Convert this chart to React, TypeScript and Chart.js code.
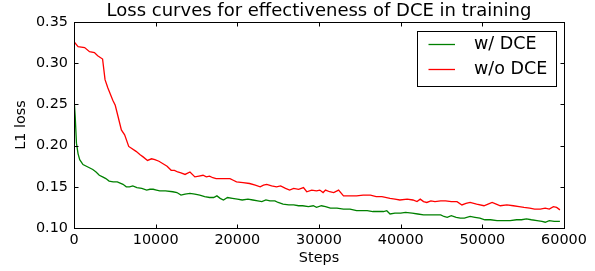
import React, { useEffect, useRef } from "react";
import { Chart, registerables } from "chart.js";

Chart.register(...registerables);

const chartTitle = "Loss curves for effectiveness of DCE in training";
const xLabel = "Steps";
const yLabel = "L1 loss";

const seriesNames = ["w/ DCE", "w/o DCE"];
const seriesColors = ["#008000", "#ff0000"];

const xTicks = [0, 10000, 20000, 30000, 40000, 50000, 60000];
const yTicks = [0.1, 0.15, 0.2, 0.25, 0.3, 0.35];

const greenSteps = [
  0, 150, 300, 500, 700, 1100, 1700, 2300, 2700, 3100, 3500, 3900, 4300, 4800, 5300, 6000, 6400, 6800, 7200, 7700,
  8300, 8900, 9300, 9700, 10100, 10500, 11200, 12100, 12600, 13100, 13600, 14200, 14800, 15400, 16000, 16600, 17100,
  17500, 17900, 18300, 18800, 19400, 20000, 20600, 21300, 21900, 22500, 23000, 23500, 24000, 24600, 25000, 25600,
  26300, 26900, 27500, 28000, 28700, 29300, 29700, 30300, 30800, 31400, 32200, 33000, 33800, 34600, 35300, 35900,
  36600, 37300, 37900, 38300, 38700, 39300, 40000, 40600, 41400, 42100, 42800, 43600, 44400, 44900, 45300, 45700,
  46200, 46800, 47300, 47800, 48500, 49100, 49700, 50300, 51000, 51800, 52600, 53400, 54200, 54800, 55400, 56000,
  56700, 57300, 57700, 58200, 58800, 59500,
];
const greenLoss = [
  0.258, 0.235, 0.203, 0.19, 0.183, 0.177, 0.174, 0.171, 0.168, 0.164, 0.162, 0.16, 0.157, 0.156, 0.156, 0.153, 0.15,
  0.15, 0.151, 0.149, 0.148, 0.146, 0.147, 0.147, 0.146, 0.145, 0.145, 0.144, 0.143, 0.14, 0.141, 0.142, 0.141, 0.14,
  0.138, 0.137, 0.137, 0.139, 0.136, 0.134, 0.137, 0.136, 0.135, 0.134, 0.135, 0.134, 0.133, 0.132, 0.134, 0.133,
  0.133, 0.131, 0.129, 0.128, 0.128, 0.127, 0.127, 0.126, 0.127, 0.125, 0.127, 0.126, 0.124, 0.124, 0.123, 0.123,
  0.121, 0.121, 0.121, 0.12, 0.12, 0.12, 0.121, 0.117, 0.118, 0.118, 0.119, 0.118, 0.117, 0.116, 0.116, 0.116, 0.116,
  0.114, 0.113, 0.115, 0.113, 0.112, 0.112, 0.114, 0.113, 0.112, 0.11, 0.11, 0.109, 0.109, 0.109, 0.11, 0.11, 0.111,
  0.11, 0.109, 0.108, 0.107, 0.109, 0.108, 0.108,
];

const redSteps = [
  0, 500, 1300, 1900, 2500, 2900, 3500, 3800, 4150, 4750, 5050, 5400, 5800, 6200, 6700, 7600, 8100, 8500, 9000, 9500,
  9900, 10400, 10900, 11400, 11900, 12300, 12700, 13100, 13600, 14200, 14800, 15300, 15800, 16200, 16600, 17000,
  17400, 18200, 19100, 19500, 19900, 20700, 21500, 22200, 22800, 23200, 23600, 24200, 24800, 25300, 25900, 26400,
  26900, 27500, 28100, 28500, 29100, 29700, 30100, 30500, 30800, 31300, 31800, 32400, 33000, 33800, 34600, 35400,
  36300, 37000, 37700, 38700, 39300, 39900, 40800, 41500, 42000, 42400, 42800, 43200, 43700, 44200, 44900, 45500,
  46200, 46900, 47500, 48000, 48500, 49300, 50200, 50700, 51200, 51700, 52200, 53000, 53800, 54500, 55100, 55800,
  56400, 57100, 57700, 58200, 58700, 59100, 59500,
];
const redLoss = [
  0.326, 0.32, 0.319, 0.314, 0.313, 0.309, 0.305, 0.28, 0.27, 0.255, 0.249, 0.235, 0.219, 0.213, 0.199, 0.193, 0.189,
  0.186, 0.182, 0.184, 0.183, 0.181, 0.178, 0.175, 0.17, 0.17, 0.168, 0.167, 0.165, 0.168, 0.162, 0.163, 0.164, 0.162,
  0.163, 0.161, 0.16, 0.16, 0.16, 0.158, 0.156, 0.155, 0.154, 0.152, 0.15, 0.152, 0.153, 0.151, 0.15, 0.151, 0.148,
  0.146, 0.148, 0.147, 0.149, 0.144, 0.146, 0.145, 0.146, 0.143, 0.146, 0.144, 0.143, 0.146, 0.139, 0.139, 0.139,
  0.14, 0.14, 0.138, 0.138, 0.136, 0.135, 0.134, 0.135, 0.134, 0.132, 0.135, 0.132, 0.131, 0.133, 0.132, 0.133, 0.133,
  0.132, 0.132, 0.128, 0.13, 0.131, 0.129, 0.127, 0.129, 0.131, 0.129, 0.127, 0.128, 0.127, 0.126, 0.125, 0.124, 0.123,
  0.123, 0.124, 0.123, 0.126, 0.125, 0.122,
];

const FONT = "'DejaVu Sans', sans-serif";

const framePlugin = {
  id: "frame",
  afterDatasetsDraw(chart: any) {
    const { ctx, chartArea: a, scales } = chart;
    const L = Math.round(a.left) + 0.5;
    const R = Math.round(a.right) + 0.5;
    const T = Math.round(a.top) + 0.5;
    const B = Math.round(a.bottom) + 0.5;
    ctx.save();
    ctx.strokeStyle = "#000";
    ctx.lineWidth = 1;
    ctx.strokeRect(L, T, R - L, B - T);
    const tl = 4;
    ctx.beginPath();
    xTicks.forEach((v) => {
      const px = Math.round(scales.x.getPixelForValue(v)) + 0.5;
      ctx.moveTo(px, B);
      ctx.lineTo(px, B - tl);
      ctx.moveTo(px, T);
      ctx.lineTo(px, T + tl);
    });
    yTicks.forEach((v) => {
      const py = Math.round(scales.y.getPixelForValue(v)) + 0.5;
      ctx.moveTo(L, py);
      ctx.lineTo(L + tl, py);
      ctx.moveTo(R, py);
      ctx.lineTo(R - tl, py);
    });
    ctx.stroke();
    ctx.restore();
  },
};

const legendPlugin = {
  id: "boxLegend",
  afterDraw(chart: any) {
    const { ctx, chartArea: a } = chart;
    const boxRight = a.right - 8.5;
    const boxTop = a.top + 9;
    const boxW = 139;
    const rowH = 25;
    const boxH = 55;
    const boxLeft = boxRight - boxW;
    ctx.save();
    ctx.fillStyle = "#fff";
    ctx.fillRect(boxLeft, boxTop, boxW, boxH);
    ctx.strokeStyle = "#000";
    ctx.lineWidth = 1;
    ctx.strokeRect(Math.round(boxLeft) + 0.5, Math.round(boxTop) + 0.5, boxW, boxH);
    ctx.font = `17.5px ${FONT}`;
    ctx.textBaseline = "middle";
    ctx.textAlign = "left";
    chart.data.datasets.forEach((ds: any, i: number) => {
      const cy = boxTop + 13.5 + i * rowH;
      ctx.strokeStyle = ds.borderColor;
      ctx.lineWidth = 1.3;
      ctx.beginPath();
      ctx.moveTo(boxLeft + 12, cy);
      ctx.lineTo(boxLeft + 38.5, cy);
      ctx.stroke();
      ctx.fillStyle = "#000";
      ctx.fillText(ds.label, boxLeft + 57.5, cy);
    });
    ctx.restore();
  },
};

export default function App() {
  const ref = useRef<HTMLCanvasElement | null>(null);

  useEffect(() => {
    if (!ref.current) return;
    Chart.defaults.color = "#000";
    const chart = new Chart(ref.current, {
      type: "line",
      data: {
        datasets: [
          {
            label: seriesNames[0],
            data: greenSteps.map((s, i) => ({ x: s, y: greenLoss[i] })),
            borderColor: seriesColors[0],
            borderWidth: 1.3,
            pointRadius: 0,
            fill: false,
            tension: 0,
          },
          {
            label: seriesNames[1],
            data: redSteps.map((s, i) => ({ x: s, y: redLoss[i] })),
            borderColor: seriesColors[1],
            borderWidth: 1.3,
            pointRadius: 0,
            fill: false,
            tension: 0,
          },
        ],
      },
      options: {
        responsive: false,
        animation: false,
        events: [],
        layout: { padding: { top: 0, left: 0, right: 31, bottom: 0 } },
        plugins: {
          legend: { display: false },
          tooltip: { enabled: false },
          title: {
            display: true,
            text: chartTitle,
            fullSize: false,
            color: "#000",
            font: { family: FONT, size: 18, weight: "normal", lineHeight: 22 / 18 },
            padding: { top: 0, bottom: 0 },
          },
        },
        scales: {
          x: {
            type: "linear",
            min: 0,
            max: 60000,
            afterFit: (s: any) => {
              s.height = 43;
            },
            afterBuildTicks: (s: any) => {
              s.ticks = xTicks.map((v) => ({ value: v }));
            },
            grid: { display: false, drawTicks: false },
            border: { display: false },
            ticks: {
              color: "#000",
              padding: 4,
              maxRotation: 0,
              font: { family: FONT, size: 14.4 },
              callback: (v: any) => String(v),
            },
            title: {
              display: true,
              text: xLabel,
              color: "#000",
              font: { family: FONT, size: 14.4 },
              padding: { top: 0, bottom: 4 },
            },
          },
          y: {
            type: "linear",
            min: 0.1,
            max: 0.35,
            afterFit: (s: any) => {
              s.width = 74;
            },
            afterBuildTicks: (s: any) => {
              s.ticks = yTicks.map((v) => ({ value: v }));
            },
            grid: { display: false, drawTicks: false },
            border: { display: false },
            ticks: {
              color: "#000",
              padding: 6,
              font: { family: FONT, size: 14.4 },
              callback: (v: any) => Number(v).toFixed(2),
            },
            title: {
              display: true,
              text: yLabel,
              color: "#000",
              font: { family: FONT, size: 14.4 },
              padding: { top: 13, bottom: 0 },
            },
          },
        },
      },
      plugins: [framePlugin, legendPlugin],
    });
    return () => chart.destroy();
  }, []);

  return (
    <div style={{ position: "fixed", left: 0, top: 0, width: 595, height: 271, background: "#fff" }}>
      <canvas ref={ref} width={595} height={271} style={{ display: "block", width: 595, height: 271 }} />
    </div>
  );
}
